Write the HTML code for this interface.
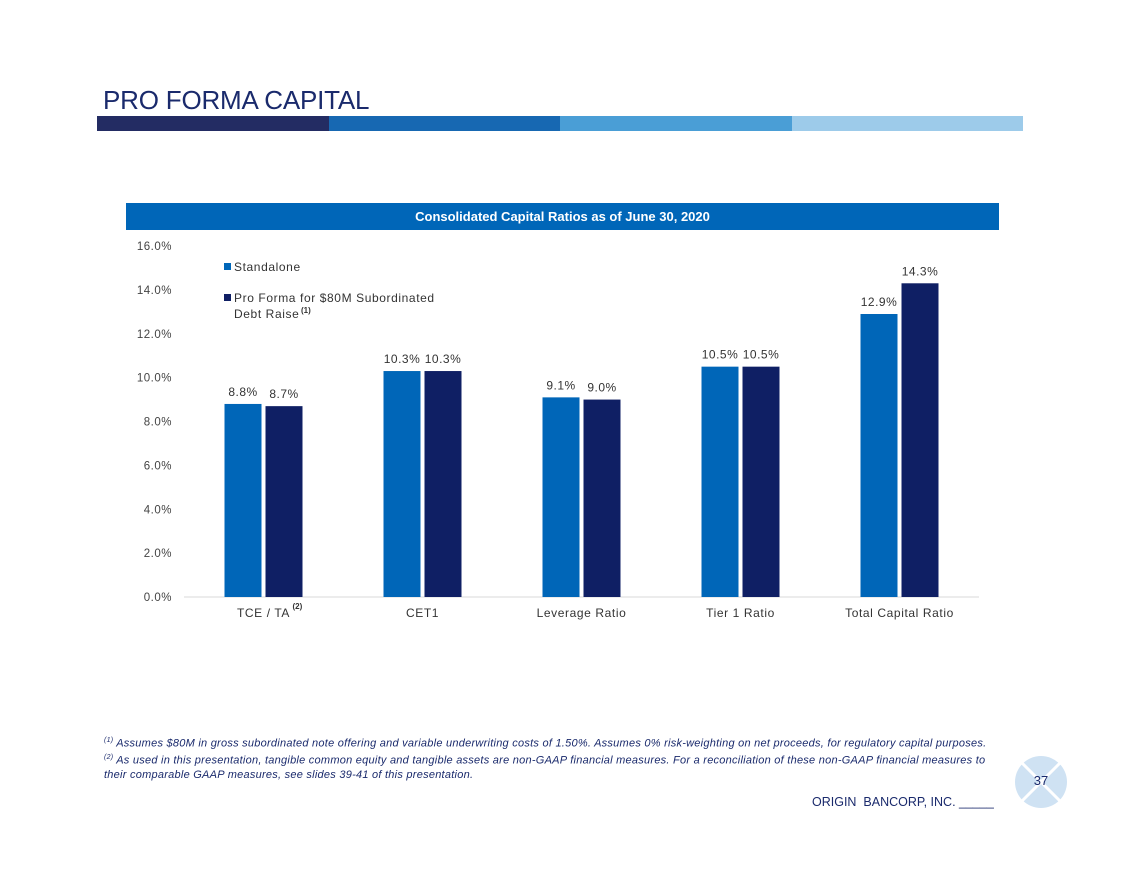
<!DOCTYPE html>
<html><head><meta charset="utf-8">
<style>
body{margin:0;width:1129px;height:871px;background:#fff;font-family:"Liberation Sans",sans-serif;position:relative;overflow:hidden}
.abs{position:absolute}
</style></head><body>
<div class="abs" style="left:103px;top:85px;font-size:26px;color:#1a2a6c;letter-spacing:-0.2px">PRO FORMA CAPITAL</div>
<div class="abs" style="left:97px;top:116px;width:926px;height:15px;display:flex">
<div style="flex:1;background:#232c63"></div><div style="flex:1;background:#1768b2"></div><div style="flex:1;background:#4a9ed6"></div><div style="flex:1;background:#9dcbea"></div></div>
<div class="abs" style="left:126px;top:203px;width:873px;height:27px;background:#0066b8;color:#fff;font-weight:bold;font-size:13px;text-align:center;line-height:27px">Consolidated Capital Ratios as of June 30, 2020</div>
<svg class="abs" style="left:0;top:0" width="1129" height="871" id="chart" font-family="Liberation Sans, sans-serif"></svg>
<div class="abs" style="left:104px;top:734px;width:900px;font-size:11px;font-style:italic;color:#1a2a6c;line-height:14.5px;letter-spacing:0.25px">
<sup style="font-size:7px">(1)</sup> Assumes $80M in gross subordinated note offering and variable underwriting costs of 1.50%. Assumes 0% risk-weighting on net proceeds, for regulatory capital purposes.<br>
<sup style="font-size:7px">(2)</sup> As used in this presentation, tangible common equity and tangible assets are non-GAAP financial measures. For a reconciliation of these non-GAAP financial measures to their comparable GAAP measures, see slides 39-41 of this presentation.</div>
<div class="abs" style="left:812px;top:795px;font-size:12.5px;color:#1a2a6c">ORIGIN&nbsp; BANCORP, INC. _____</div>
<svg class="abs" style="left:1013px;top:755px" width="56" height="56">
<circle cx="28" cy="27" r="26" fill="#cfe2f3"/>
<line x1="8" y1="7" x2="48" y2="47" stroke="#fff" stroke-width="3"/><line x1="48" y1="7" x2="8" y2="47" stroke="#fff" stroke-width="3"/>
<text x="28" y="30" font-size="13" fill="#1a2a6c" text-anchor="middle" font-family="Liberation Sans">37</text></svg>
<script>
const categories=["TCE / TA","CET1","Leverage Ratio","Tier 1 Ratio","Total Capital Ratio"];
const standalone=[8.8,10.3,9.1,10.5,12.9];
const proForma=[8.7,10.3,9.0,10.5,14.3];
const ticks=[0,2,4,6,8,10,12,14,16];
const svg=document.getElementById('chart');const NS='http://www.w3.org/2000/svg';
const y0=597,pxPer=(597-246)/16,xL=184,bandW=159;
const y=v=>y0-v*pxPer;const xc=i=>xL+bandW*(i+0.5);
function mk(t,a,txt){const e=document.createElementNS(NS,t);for(const k in a)e.setAttribute(k,a[k]);if(txt!=null)e.textContent=txt;svg.appendChild(e);return e;}
ticks.forEach(t=>{const e=mk('text',{x:172,y:y(t)+4,'font-size':11.5,fill:'#444','text-anchor':'end','letter-spacing':'0.5'},t.toFixed(1)+'%');

});
const ax=mk('line',{x1:xL,x2:xL+bandW*5,y1:y0,y2:y0,stroke:'#d9d9d9'});


categories.forEach((c,i)=>{
 const cx=xc(i);
 [[standalone[i],'#0066b8',cx-39],[proForma[i],'#0f1f64',cx+2]].forEach(([v,col,x],j)=>{
  const r=mk('rect',{x:x,y:y(v),width:37,height:y0-y(v),fill:col});
  
  
  const l=mk('text',{x:x+18.5,y:y(v)-8,'font-size':12,fill:'#333','text-anchor':'middle','letter-spacing':'0.5'},v.toFixed(1)+'%');
  
  
 });
 const t=mk('text',{x:cx,y:617,'font-size':12,fill:'#333','text-anchor':'middle','letter-spacing':'0.6'},c);
 
 
 if(i===0){const s=mk('text',{x:cx+29,y:609,'font-size':8,fill:'#333','font-weight':'bold'},'(2)');}
});
const lg=[['#0066b8','Standalone',268],['#0f1f64','Pro Forma for $80M Subordinated',299]];
lg.forEach(([c,t,yy])=>{const r=mk('rect',{x:224,y:yy-5,width:7,height:7,fill:c});
const e=mk('text',{x:234,y:yy+3,'font-size':12,fill:'#333','letter-spacing':'0.6'},t);});
const l2=mk('text',{x:234,y:318,'font-size':12,fill:'#333','letter-spacing':'0.6'},'Debt Raise');
const s2=mk('text',{x:301,y:313,'font-size':8,fill:'#333','font-weight':'bold'},'(1)');
</script>
</body></html>
